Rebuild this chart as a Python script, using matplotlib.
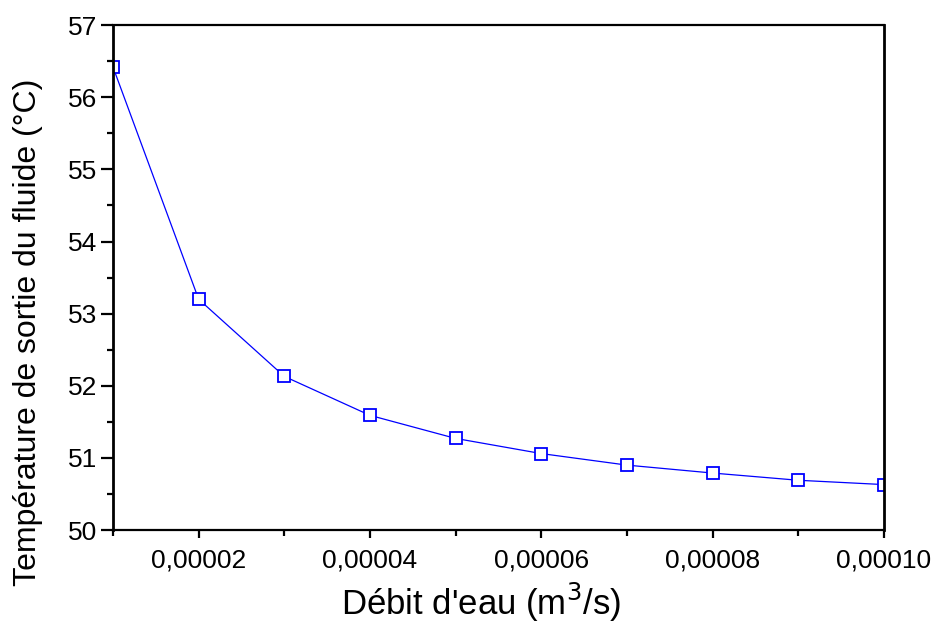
import numpy as np
import matplotlib.pyplot as plt
from matplotlib.ticker import FuncFormatter, MultipleLocator

debit = [0.00001, 0.00002, 0.00003, 0.00004, 0.00005,
         0.00006, 0.00007, 0.00008, 0.00009, 0.00010]
temp_sortie = [56.42, 53.20, 52.13, 51.59, 51.27,
               51.06, 50.90, 50.79, 50.69, 50.63]

plt.rcParams['font.family'] = ['Liberation Sans', 'DejaVu Sans']

fig = plt.figure(figsize=(9.36, 6.28), dpi=100)
ax = fig.add_axes([0.1207, 0.156, 0.8237, 0.804])

ax.plot(debit, temp_sortie, color='#0000ff', lw=0.9, marker='s', ms=9,
        mfc='white', mec='#0000ff', mew=1.3)

ax.set_xlim(0.00001, 0.0001)
ax.set_ylim(50, 57)
ax.xaxis.set_major_locator(MultipleLocator(0.00002))
ax.xaxis.set_minor_locator(MultipleLocator(0.00001))
ax.yaxis.set_major_locator(MultipleLocator(1))
ax.yaxis.set_minor_locator(MultipleLocator(0.5))
ax.xaxis.set_major_formatter(FuncFormatter(lambda v, p: f"{v:.5f}".replace('.', ',')))

ax.spines['left'].set_linewidth(2)
ax.spines['right'].set_linewidth(2)
ax.spines['top'].set_linewidth(1.6)
ax.spines['bottom'].set_linewidth(1.6)
ax.tick_params(labelsize=19)
ax.tick_params(axis='y', which='major', direction='out', length=8.5, width=1.6, pad=3)
ax.tick_params(axis='y', which='minor', direction='out', length=4.5, width=1.6)
ax.tick_params(axis='x', which='major', direction='out', length=6, width=1.6, pad=7)
ax.tick_params(axis='x', which='minor', direction='out', length=4, width=1.6)

ax.set_xlabel("Débit d'eau (m$^3$/s)", fontsize=25, labelpad=6)
ax.set_ylabel("Température de sortie du fluide (°C)", fontsize=23, labelpad=18)
# the labels sit a little off the axis centre in the original
ax.xaxis.label.set_x(0.477)
ax.yaxis.label.set_y(0.392)

fig.savefig('out.png', dpi=100)
